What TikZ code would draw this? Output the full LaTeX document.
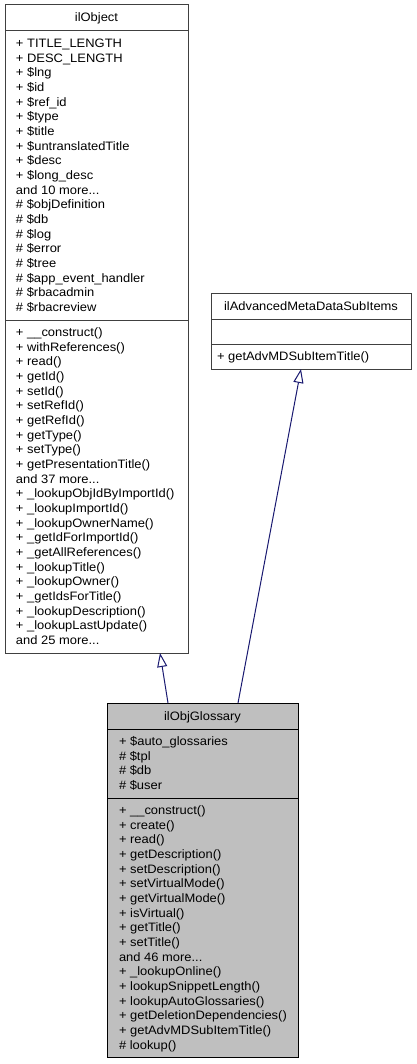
\documentclass[tikz,border=0pt]{standalone}
\usepackage{fontspec}
\setmainfont{Liberation Sans}[FakeStretch=1.06]
\usetikzlibrary{arrows.meta,calc}
\definecolor{edgeblue}{HTML}{191970}
\definecolor{boxgray}{HTML}{404040}
\definecolor{mainfill}{HTML}{BFBFBF}
\newcommand\mydots{...}
\newcommand\umlrows[4]{%
  \foreach \txt [count=\i from 0] in {#4}
    \node[anchor=base west] (#1\i) at (#2,{#3+5.25+14.66*(\i+0.5)+4}) {\txt};}
\begin{document}
\begin{tikzpicture}[x=1pt,y=-1pt,
  every node/.style={font=\fontsize{12.2}{14.66}\selectfont, inner sep=0pt, outer sep=0pt},
  classbox/.style={draw=boxgray, fill=white, line width=1pt, anchor=north west},
  mainbox/.style={draw=black, fill=mainfill, line width=1pt, anchor=north west},
  inh/.style={draw=edgeblue, line width=1pt, -{Triangle[open, length=14pt, width=10pt]}}]
\useasboundingbox (0,0) rectangle (416,1064);

% ilObject
\node[classbox, minimum width=183pt, minimum height=648pt] (obj) at (5,5) {};
\node[anchor=base] (objt) at (96.5,22) {ilObject};
\draw[boxgray, line width=1pt] (5,31) -- (188,31);
\draw[boxgray, line width=1pt] (5,320) -- (188,320);
\umlrows{obja}{16}{31}{+ TITLE\_LENGTH,+ DESC\_LENGTH,+ \$lng,+ \$id,+ \$ref\_id,+ \$type,+ \$title,+ \$untranslatedTitle,+ \$desc,+ \$long\_desc,and 10 more\mydots,\# \$objDefinition,\# \$db,\# \$log,\# \$error,\# \$tree,\# \$app\_event\_handler,\# \$rbacadmin,\# \$rbacreview}
\umlrows{objm}{16}{320}{+ \_\_construct(),+ withReferences(),+ read(),+ getId(),+ setId(),+ setRefId(),+ getRefId(),+ getType(),+ setType(),+ getPresentationTitle(),and 37 more\mydots,+ \_lookupObjIdByImportId(),+ \_lookupImportId(),+ \_lookupOwnerName(),+ \_getIdForImportId(),+ \_getAllReferences(),+ \_lookupTitle(),+ \_lookupOwner(),+ \_getIdsForTitle(),+ \_lookupDescription(),+ \_lookupLastUpdate(),and 25 more\mydots}

% ilAdvancedMetaDataSubItems
\node[classbox, minimum width=200pt, minimum height=76pt] (adv) at (211,293) {};
\node[anchor=base] (advt) at (311,310) {ilAdvancedMetaDataSubItems};
\draw[boxgray, line width=1pt] (211,319) -- (411,319);
\draw[boxgray, line width=1pt] (211,344) -- (411,344);
\umlrows{advm}{217}{344}{+ getAdvMDSubItemTitle()}

% ilObjGlossary
\node[mainbox, minimum width=191pt, minimum height=354pt] (gl) at (107,703) {};
\node[anchor=base] (glt) at (202.5,720) {ilObjGlossary};
\draw[black, line width=1pt] (107,729) -- (298,729);
\draw[black, line width=1pt] (107,798) -- (298,798);
\umlrows{gla}{119}{729}{+ \$auto\_glossaries,\# \$tpl,\# \$db,\# \$user}
\umlrows{glm}{119}{798}{+ \_\_construct(),+ create(),+ read(),+ getDescription(),+ setDescription(),+ setVirtualMode(),+ getVirtualMode(),+ isVirtual(),+ getTitle(),+ setTitle(),and 46 more\mydots,+ \_lookupOnline(),+ lookupSnippetLength(),+ lookupAutoGlossaries(),+ getDeletionDependencies(),+ getAdvMDSubItemTitle(),\# lookup()}

% inheritance
\coordinate (g1) at ($(gl.north west)+(61,0)$);
\coordinate (o1) at ($(obj.south west)+(155,0)$);
\coordinate (g2) at ($(gl.north west)+(131,0)$);
\coordinate (a2) at ($(adv.south west)+(90,0)$);
\draw[inh] (g1) -- (o1);
\draw[inh] (g2) -- (a2);
\end{tikzpicture}
\end{document}
